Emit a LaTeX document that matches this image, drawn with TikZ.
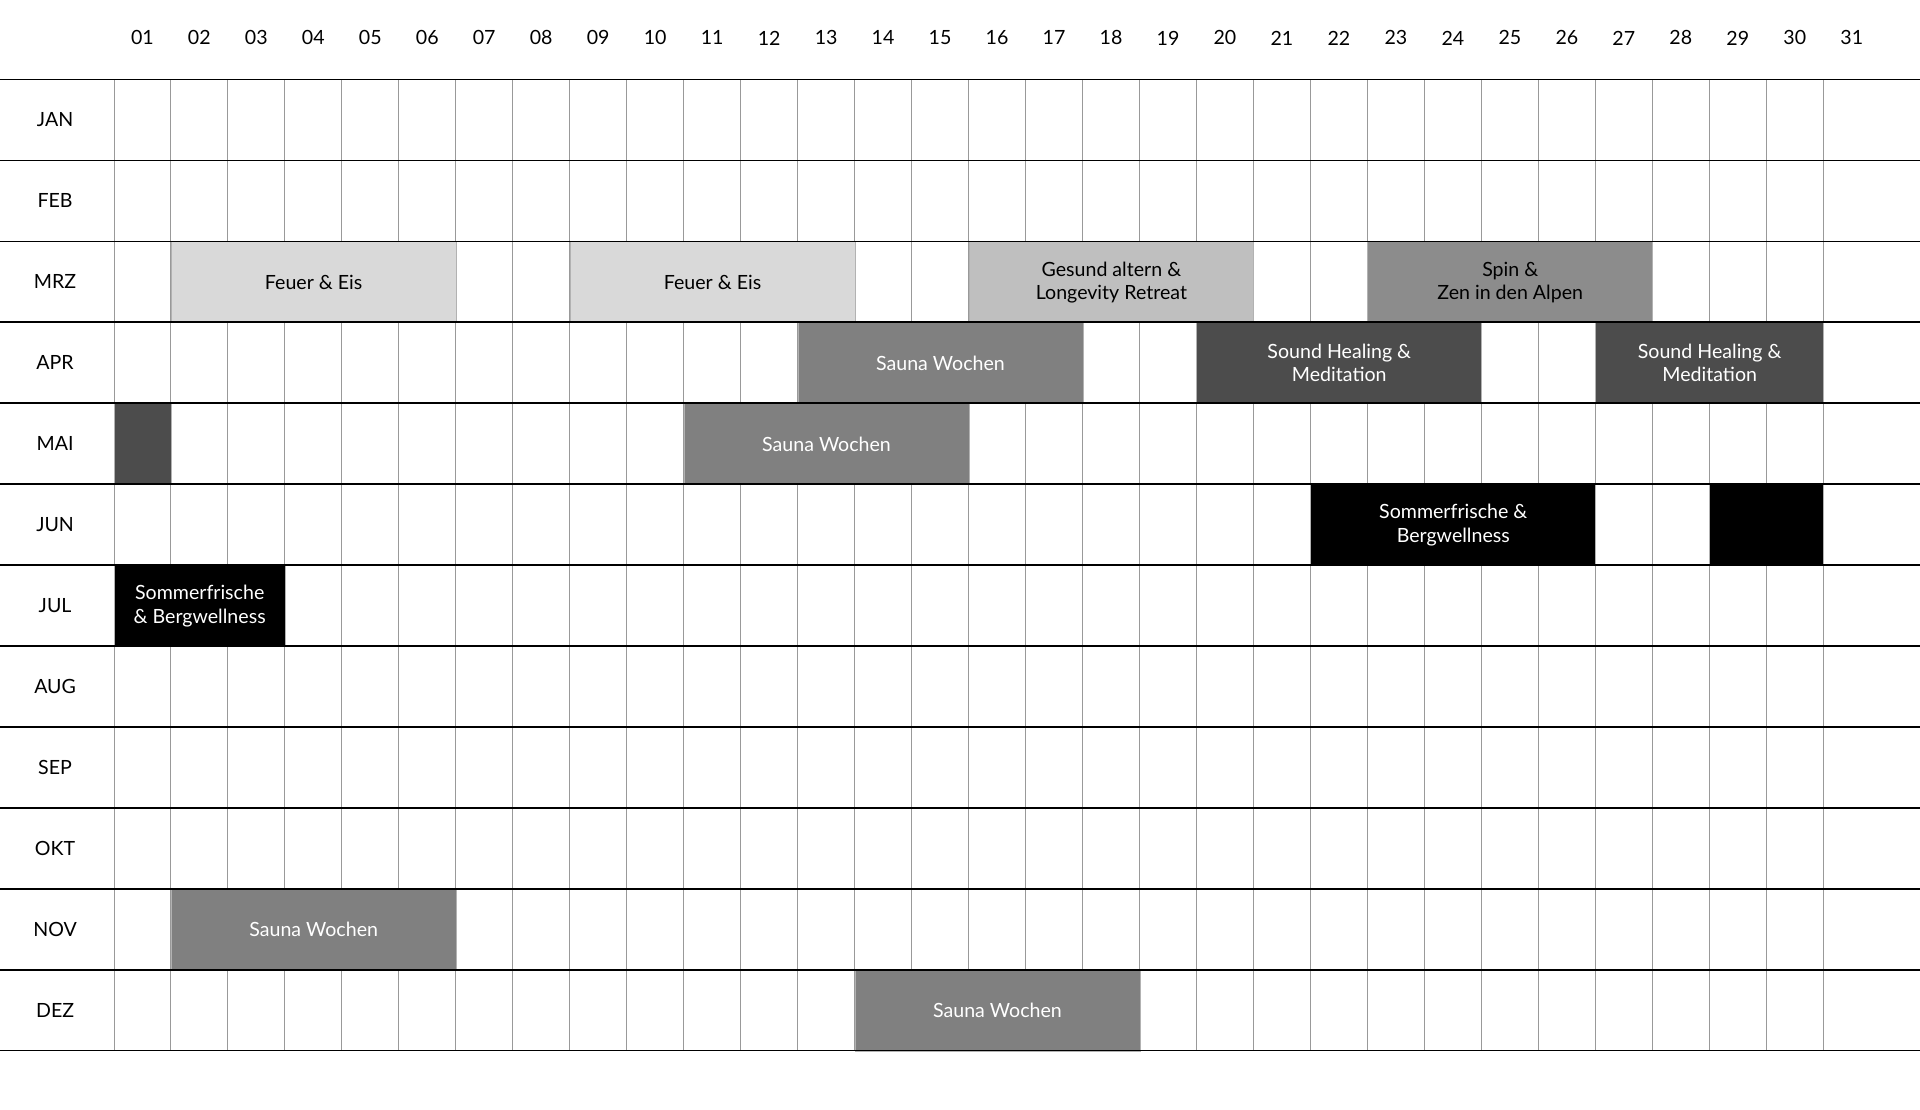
\documentclass[tikz,border=0pt]{standalone}
\usepackage{fontspec}
\setmainfont{Lato}
\begin{document}
\begin{tikzpicture}[x=1pt,y=-1pt,
  hl/.style={line width=1.4pt,black},
  vl/.style={line width=0.6pt,gray!80},
  lab/.style={font=\fontsize{16}{19}\selectfont,inner sep=0pt},
  bar/.style={draw=gray!60,line width=0.6pt,inner sep=0pt,align=center,font=\fontsize{16}{19}\selectfont},
  c1/.style={bar,fill=black!15,text=black},
  c2/.style={bar,fill=black!25,text=black},
  c3/.style={bar,fill=black!45,text=black},
  c4/.style={bar,fill=black!50,text=white},
  c5/.style={bar,fill=black!70,text=white},
  c6/.style={bar,fill=black,text=white}]
\useasboundingbox (0,0) rectangle (1568,906);
\fill[white] (0,0) rectangle (1568,906);
\def\cw{46.533}
\def\rh{66.083}
% vertical lines
\foreach \i in {0,...,30} \draw[vl] ({93+\i*\cw},65) -- ({93+\i*\cw},858);
% day labels
\foreach \d [count=\k] in {01,02,03,04,05,06,07,08,09,10,11,12,13,14,15,16,17,18,19,20,21,22,23,24,25,26,27,28,29,30,31}
  \node[lab] (d\k) at ({93+(\k-0.5)*\cw},31) {\d};
% months
\foreach \m [count=\k] in {JAN,FEB,MRZ,APR,MAI,JUN,JUL,AUG,SEP,OKT,NOV,DEZ}
  \node[lab] (m\k) at (45,{65+(\k-0.5)*\rh}) {\m};
% bars: \bar{name}{style}{row}{startday}{ndays}{text}
\newcommand\mybar[6]{\node[#2,minimum width={#5*\cw},minimum height=\rh,anchor=north west] (#1) at ({93+(#4-1)*\cw},{65+(#3-1)*\rh}) {#6};}
\mybar{fe1}{c1}{3}{2}{5}{Feuer \& Eis}
\mybar{fe2}{c1}{3}{9}{5}{Feuer \& Eis}
\mybar{ga}{c2}{3}{16}{5}{Gesund altern \&\\Longevity Retreat}
\mybar{sz}{c3}{3}{23}{5}{Spin \&\\Zen in den Alpen}
\mybar{sw1}{c4}{4}{13}{5}{Sauna Wochen}
\mybar{sh1}{c5}{4}{20}{5}{Sound Healing \&\\Meditation}
\mybar{sh2}{c5}{4}{27}{4}{Sound Healing \&\\Meditation}
\mybar{mai1}{c5}{5}{1}{1}{}
\mybar{sw2}{c4}{5}{11}{5}{Sauna Wochen}
\mybar{sf1}{c6}{6}{22}{5}{Sommerfrische \&\\Bergwellness}
\mybar{jun2}{c6}{6}{29}{2}{}
\mybar{sf2}{c6}{7}{1}{3}{Sommerfrische\\\& Bergwellness}
\mybar{sw3}{c4}{11}{2}{5}{Sauna Wochen}
\mybar{sw4}{c4}{12}{14}{5}{Sauna Wochen}
% horizontal lines
\foreach \r in {0,...,12} \draw[hl] (0,{65+\r*\rh}) -- (1568,{65+\r*\rh});
\end{tikzpicture}
\end{document}
